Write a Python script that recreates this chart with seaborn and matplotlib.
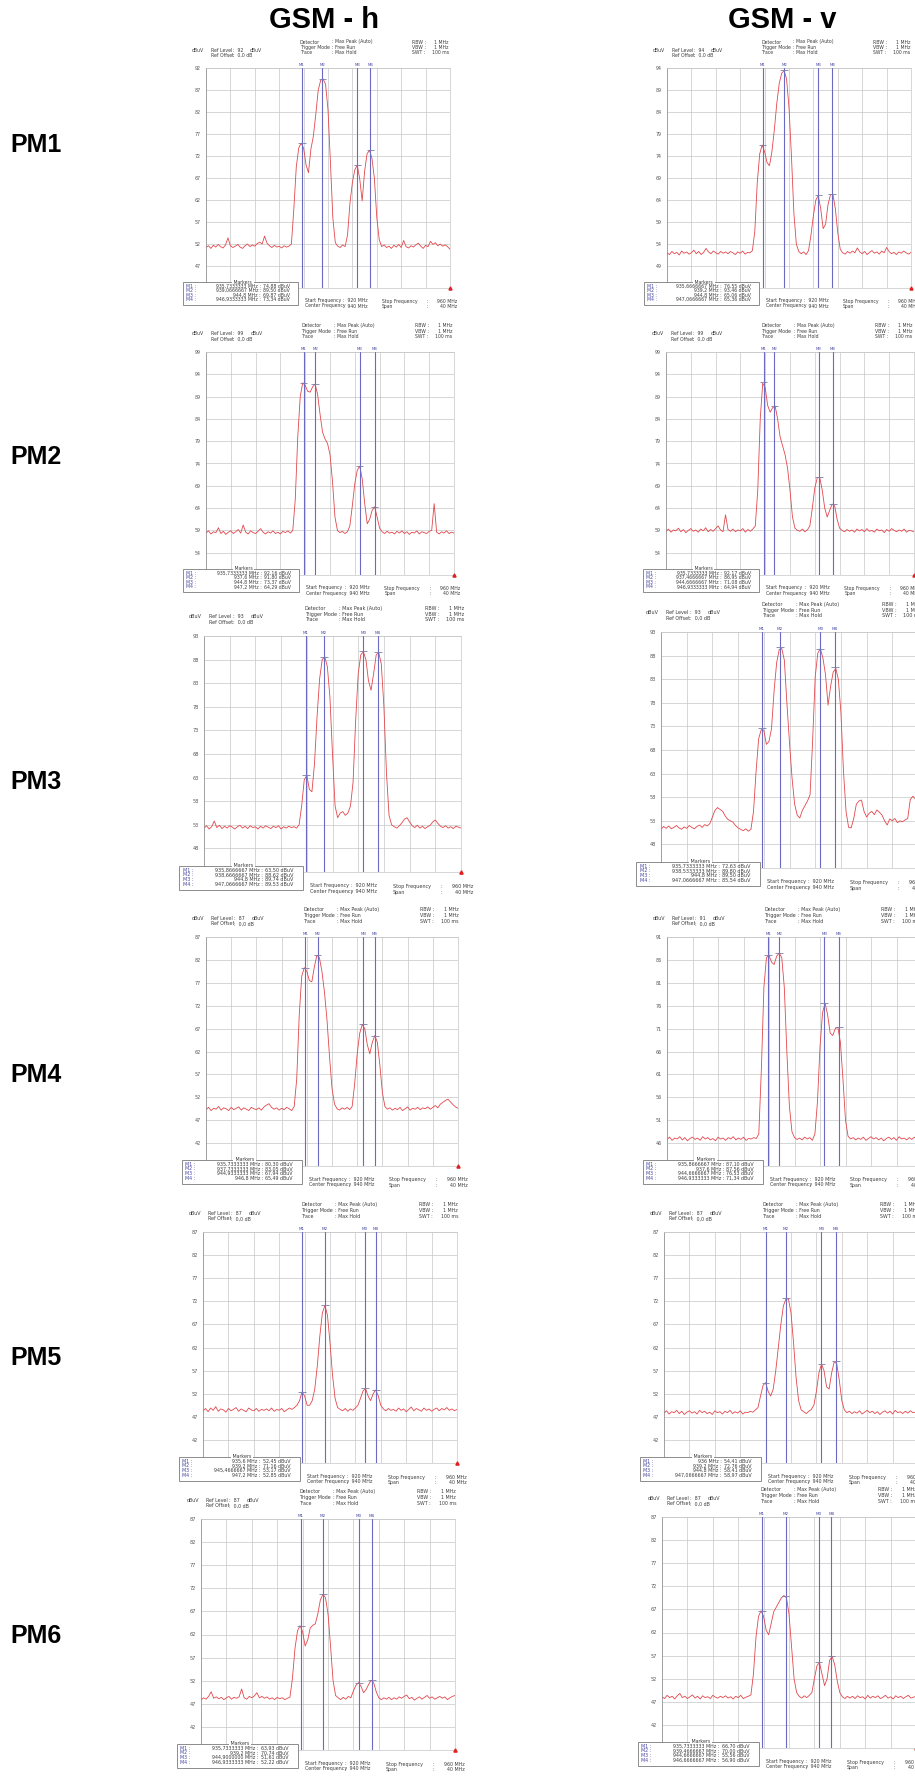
import matplotlib.pyplot as plt
from matplotlib.patches import Rectangle
import seaborn as sns
import numpy as np

# ============  6 x 2 spectrum analyser screenshots (GSM - h / GSM - v)  ============

sns.set_theme(style="white")
plt.rcParams['font.family'] = ['DejaVu Sans']

FW, FH = 915, 1778

col_titles = ["GSM - h", "GSM - v"]
row_labels = ["PM1", "PM2", "PM3", "PM4", "PM5", "PM6"]

freq = np.linspace(920, 960, 101)          # analyser frequency grid, 0.4 MHz step

ref_h = [92, 99, 93, 87, 87, 87]
ref_v = [94, 99, 93, 91, 87, 87]

# ---- traces, dBuV (rows: 920-929.6 / 930-939.6 / 940-949.6 / 950-959.6 / 960)
trace_pm1_h = [51.2, 51.6, 51.0, 51.7, 51.3, 51.9, 51.4, 51.1, 51.8, 53.4, 51.6, 51.2, 51.5, 51.9, 51.3, 51.0, 51.6, 52.0, 51.4, 51.8, 51.5, 52.1, 52.4, 52.0, 53.8,
               52.2, 51.6, 51.2, 51.7, 51.3, 51.5, 51.1, 51.6, 51.3, 51.5, 52.0, 60.0, 69.5, 73.8, 74.9, 73.8, 70.0, 68.2, 73.6, 76.5, 81.5, 87.0, 89.2, 89.5, 88.3,
               82.5, 70.5, 57.8, 52.3, 51.5, 51.2, 51.8, 51.4, 54.0, 61.3, 66.0, 68.9, 69.9, 66.8, 61.8, 68.5, 72.5, 73.3, 71.5, 67.0, 58.0, 53.0, 51.4, 51.8, 51.2,
               51.5, 51.0, 51.7, 51.3, 51.9, 51.2, 52.8, 51.4, 51.1, 51.6, 51.3, 51.8, 52.2, 51.5, 51.0, 51.7, 51.4, 52.6, 51.9, 52.3, 51.6, 52.0, 51.5, 51.8, 51.4,
               50.8]
trace_pm1_v = [52.0, 51.6, 52.3, 51.8, 52.1, 51.5, 52.4, 51.9, 52.2, 51.7, 52.0, 52.6, 51.8, 52.3, 51.6, 52.1, 53.0, 52.2, 51.8, 52.4, 52.0, 51.7, 52.3, 51.9, 52.2,
               51.8, 52.3, 52.0, 51.6, 52.2, 51.9, 52.4, 51.7, 52.1, 52.0, 52.5, 57.0, 68.0, 74.5, 76.5, 75.0, 72.5, 71.8, 75.0, 80.0, 86.0, 90.5, 92.8, 93.4, 91.5,
               85.0, 74.0, 61.0, 54.0, 52.3, 51.8, 52.2, 51.6, 52.5, 56.0, 60.5, 64.0, 65.0, 62.0, 57.5, 58.5, 63.0, 65.2, 65.3, 62.0, 56.5, 52.8, 52.0, 51.7, 52.3,
               51.9, 52.4, 52.0, 53.1, 52.2, 51.8, 52.3, 51.6, 52.1, 52.5, 51.9, 52.2, 51.7, 52.4, 52.0, 53.2, 52.3, 51.8, 52.1, 51.6, 52.2, 51.9, 52.4, 52.0, 51.7,
               52.1]
trace_pm2_h = [58.4, 58.9, 58.2, 58.7, 58.5, 59.6, 58.3, 58.8, 58.1, 58.6, 58.9, 58.3, 58.7, 59.2, 58.4, 60.2, 58.6, 58.2, 58.9, 58.5, 58.3, 58.8, 59.4, 58.6, 58.2,
               58.7, 58.4, 58.9, 58.3, 58.6, 58.2, 58.8, 58.5, 58.9, 58.4, 59.0, 66.0, 80.0, 89.0, 92.1, 91.5, 90.2, 90.0, 91.2, 91.8, 89.5, 85.0, 81.0, 79.5, 78.5,
               76.0, 70.0, 62.0, 59.0, 58.5, 58.8, 58.3, 58.7, 60.0, 64.5, 69.5, 72.5, 73.4, 70.5, 65.0, 60.5, 61.5, 63.5, 64.3, 62.0, 59.5, 58.7, 58.3, 58.8, 58.4,
               58.6, 58.2, 58.8, 58.4, 58.9, 58.3, 58.7, 58.1, 58.6, 58.4, 58.9, 58.2, 58.7, 58.5, 58.3, 58.8, 59.0, 65.0, 58.6, 58.2, 58.7, 58.4, 58.9, 58.3, 58.6,
               58.4]
trace_pm2_v = [58.8, 59.3, 58.6, 59.1, 58.9, 59.5, 58.7, 59.2, 58.5, 59.0, 59.4, 58.8, 59.1, 58.6, 59.3, 58.9, 59.6, 58.7, 59.2, 58.8, 59.4, 60.0, 59.1, 58.7, 62.5,
               59.2, 58.8, 59.3, 58.7, 59.1, 58.9, 59.4, 58.6, 59.2, 58.8, 59.3, 60.0, 68.0, 84.0, 92.0, 91.0, 87.0, 85.5, 86.5, 86.9, 84.0, 80.0, 78.0, 76.0, 73.0,
               68.0, 62.0, 59.5, 59.0, 58.8, 59.3, 58.7, 59.1, 60.0, 64.0, 68.5, 70.8, 70.9, 68.0, 64.0, 62.0, 63.5, 64.9, 64.5, 61.5, 59.5, 59.0, 58.7, 59.2, 58.8,
               59.1, 58.6, 59.3, 58.9, 59.2, 58.7, 59.4, 58.8, 59.0, 58.6, 59.3, 58.9, 59.1, 58.5, 59.2, 58.8, 59.4, 59.0, 58.7, 59.1, 58.8, 59.3, 58.6, 59.0, 58.9,
               58.7]
trace_pm3_h = [52.3, 52.8, 52.1, 52.6, 53.8, 52.4, 52.9, 52.2, 52.7, 52.3, 52.8, 52.5, 52.1, 52.6, 52.9, 52.3, 52.7, 52.2, 52.8, 52.4, 52.6, 52.1, 52.7, 52.3, 52.8,
               52.5, 52.2, 52.7, 52.4, 52.8, 52.1, 52.6, 52.3, 52.7, 52.4, 52.6, 52.3, 53.0, 57.0, 62.5, 63.5, 60.5, 60.0, 66.0, 76.0, 84.0, 88.0, 88.6, 86.5, 80.0,
               68.0, 57.0, 54.5, 55.5, 55.8, 55.0, 55.5, 57.0, 62.0, 75.0, 85.0, 89.0, 89.7, 88.0, 83.5, 81.5, 85.0, 89.0, 89.5, 87.0, 78.0, 64.0, 55.0, 53.0, 52.6,
               52.3, 52.8, 53.4, 54.2, 54.5, 53.6, 52.8, 52.4, 52.9, 52.3, 52.7, 52.2, 52.6, 52.9, 53.6, 54.0, 53.3, 52.7, 52.4, 52.8, 52.3, 52.6, 52.2, 52.7, 52.5,
               52.3]
trace_pm3_v = [51.2, 51.8, 51.4, 51.9, 51.3, 51.6, 52.0, 51.5, 51.2, 51.7, 51.4, 52.0, 51.6, 51.3, 51.8, 52.1, 51.6, 52.2, 51.9, 52.4, 53.8, 55.2, 55.8, 55.4, 55.0,
               54.0, 53.3, 53.0, 52.7, 52.0, 51.5, 51.2, 50.9, 51.3, 50.8, 51.2, 55.0, 63.5, 70.4, 72.3, 72.2, 69.2, 69.8, 72.5, 80.5, 86.5, 89.3, 89.5, 87.0, 77.8,
               69.5, 62.0, 56.5, 54.2, 53.6, 55.2, 56.2, 57.2, 58.5, 70.0, 83.5, 88.5, 89.5, 87.5, 84.0, 77.5, 81.5, 84.5, 85.3, 83.0, 76.0, 63.5, 55.0, 51.6, 51.5,
               53.5, 56.5, 57.2, 57.4, 55.0, 53.8, 54.6, 55.0, 54.3, 55.3, 54.8, 54.2, 53.0, 52.1, 53.4, 53.0, 53.5, 52.6, 53.0, 52.8, 53.2, 53.5, 57.5, 58.2, 57.6,
               57.2]
trace_pm4_h = [49.3, 49.8, 49.1, 49.6, 49.4, 50.0, 49.2, 49.7, 49.5, 49.1, 49.8, 49.3, 49.6, 49.9, 49.2, 49.7, 49.4, 49.1, 49.8, 49.5, 49.3, 49.7, 49.2, 49.9, 50.3,
               50.6, 49.8, 49.4, 49.7, 49.2, 49.6, 49.3, 49.8, 49.5, 49.1, 50.0, 56.0, 70.0, 78.5, 80.3, 79.5, 77.5, 77.2, 80.5, 83.0, 82.5, 79.5, 75.0, 69.0, 61.0,
               54.0, 50.5, 49.5, 49.2, 49.7, 49.4, 49.8, 49.3, 50.0, 55.0, 61.5, 66.0, 67.9, 67.0, 63.5, 61.5, 64.0, 65.5, 64.0, 59.0, 53.0, 50.0, 49.4, 49.7, 49.2,
               49.6, 49.3, 49.8, 49.1, 49.5, 49.9, 49.2, 49.6, 49.4, 49.8, 49.3, 49.7, 49.5, 49.9, 49.4, 49.8, 50.2, 49.7, 50.5, 50.9, 51.3, 51.6, 51.0, 50.4, 49.9,
               49.6]
trace_pm4_v = [46.8, 47.3, 46.6, 47.1, 46.9, 47.4, 46.7, 47.2, 46.5, 47.0, 47.3, 46.8, 47.1, 46.6, 47.4, 46.9, 47.2, 46.7, 47.0, 46.5, 47.3, 46.9, 47.1, 46.6, 47.2,
               46.9, 47.4, 46.7, 47.1, 46.8, 47.3, 46.6, 47.0, 46.9, 47.2, 47.0, 48.0, 62.0, 80.0, 86.5, 87.0, 85.5, 85.0, 86.8, 87.5, 86.5, 80.0, 66.0, 54.0, 48.5,
               47.2, 46.8, 47.1, 46.7, 47.3, 46.9, 47.2, 46.6, 48.0, 55.0, 67.0, 74.5, 76.5, 74.0, 70.0, 69.5, 71.0, 71.3, 68.0, 60.0, 51.0, 47.5, 46.9, 47.2, 46.7,
               47.1, 46.8, 47.3, 46.6, 47.0, 47.4, 46.9, 47.2, 46.7, 47.1, 46.5, 47.0, 47.3, 46.8, 47.2, 46.6, 47.4, 46.9, 47.1, 46.7, 47.2, 46.8, 47.3, 46.9, 47.0,
               46.8]
trace_pm5_h = [48.3, 48.8, 48.1, 48.9, 48.4, 49.2, 48.2, 48.7, 48.5, 48.0, 48.8, 48.3, 48.6, 49.0, 48.2, 48.7, 48.4, 48.1, 48.9, 48.5, 48.3, 48.8, 48.2, 48.6, 48.4,
               48.7, 48.3, 48.9, 48.2, 48.6, 48.4, 48.8, 48.1, 48.5, 48.9, 48.6, 49.0, 49.5, 50.5, 52.4, 51.5, 49.5, 49.5, 50.5, 53.0, 58.0, 64.5, 69.5, 71.1, 69.0,
               63.0, 56.0, 51.0, 49.0, 48.6, 48.3, 48.8, 48.2, 48.7, 48.4, 48.9, 49.5, 51.0, 52.6, 53.1, 51.5, 50.5, 52.0, 52.8, 51.5, 49.5, 48.7, 48.3, 48.8, 48.4,
               48.6, 48.2, 48.9, 48.4, 48.7, 48.1, 48.6, 49.1, 48.3, 48.8, 48.5, 48.2, 48.9, 48.4, 48.7, 48.2, 48.6, 48.9, 48.3, 48.8, 48.5, 49.0, 48.4, 48.7, 48.3,
               48.6]
trace_pm5_v = [47.8, 48.3, 47.6, 48.1, 47.9, 48.4, 47.7, 48.2, 47.5, 48.0, 48.3, 47.8, 48.1, 47.6, 48.4, 47.9, 48.2, 47.7, 48.0, 47.5, 48.3, 47.9, 48.1, 47.6, 48.2,
               47.9, 48.4, 47.7, 48.1, 47.8, 48.3, 47.6, 48.0, 47.9, 48.2, 48.0, 48.5, 49.0, 51.5, 53.8, 54.4, 52.5, 51.5, 53.0, 57.0, 62.0, 67.0, 71.0, 72.5, 72.5,
               69.5, 63.0, 55.5, 50.5, 48.5, 48.1, 47.7, 48.2, 48.6, 49.5, 52.5, 56.5, 58.4, 57.0, 53.5, 53.0, 56.5, 58.9, 58.5, 55.0, 50.5, 48.5, 47.9, 48.2, 47.7,
               48.1, 47.8, 48.3, 47.6, 48.0, 48.4, 47.9, 48.2, 47.7, 48.1, 47.5, 48.0, 48.3, 47.8, 48.2, 47.6, 48.4, 47.9, 48.1, 47.7, 48.2, 47.8, 48.3, 47.9, 48.0,
               47.8]
trace_pm6_h = [47.8, 48.3, 48.0, 48.6, 49.6, 48.2, 48.5, 48.1, 48.4, 47.9, 48.3, 48.6, 48.0, 48.4, 48.2, 48.5, 50.2, 48.3, 48.0, 48.6, 48.3, 48.7, 49.4, 48.3, 48.6,
               48.2, 48.5, 48.0, 48.3, 47.9, 48.4, 48.1, 48.3, 47.9, 48.2, 48.4, 52.5, 59.0, 62.8, 63.9, 62.6, 59.5, 60.8, 63.4, 64.0, 64.3, 66.5, 69.5, 70.7, 70.0,
               66.5, 59.5, 52.0, 48.8, 48.3, 47.9, 48.4, 48.0, 48.6, 48.3, 49.8, 51.0, 51.6, 50.8, 49.4, 50.1, 51.2, 52.1, 51.5, 49.6, 48.3, 47.9, 48.3, 48.0, 48.4,
               47.9, 48.3, 48.0, 48.5, 48.2, 48.6, 48.9, 48.1, 48.4, 47.8, 48.2, 48.5, 48.0, 48.4, 48.8, 48.2, 48.5, 48.0, 48.3, 48.6, 48.2, 48.5, 47.9, 48.3, 48.6,
               48.8]
trace_pm6_v = [48.1, 47.7, 48.4, 47.9, 48.2, 47.6, 48.3, 48.8, 47.9, 48.2, 47.7, 48.1, 48.5, 47.8, 48.2, 47.6, 48.3, 47.9, 48.1, 47.7, 48.4, 48.0, 47.8, 48.2, 47.9,
               48.3, 47.8, 48.1, 47.6, 48.2, 47.9, 48.4, 47.7, 48.0, 48.2, 48.5, 53.0, 61.0, 65.5, 66.7, 65.5, 62.5, 61.5, 64.0, 66.5, 67.5, 68.5, 69.5, 70.0, 69.5,
               66.0, 59.0, 52.0, 49.0, 48.2, 47.8, 48.3, 47.9, 48.4, 49.0, 52.0, 54.8, 55.5, 53.0, 50.5, 52.0, 56.0, 56.8, 55.0, 51.5, 49.0, 48.1, 47.7, 48.2, 47.8,
               48.2, 47.7, 48.3, 47.9, 48.1, 47.6, 48.4, 47.8, 48.2, 47.9, 48.3, 47.7, 48.0, 48.4, 47.8, 48.1, 47.6, 48.3, 47.9, 48.2, 47.7, 48.1, 48.4, 47.8, 48.0,
               48.2]

# ---- markers M1..M4: frequency text (MHz) and level (dBuV)
mkf_pm1_h = ["935,7333333", "939,0666667", "944,8", "946,9333333"]
mkv_pm1_h = [74.88, 89.50, 69.87, 73.34]
mkf_pm1_v = ["935,6666667", "939,2", "944,8", "947,0666667"]
mkv_pm1_v = [76.55, 93.46, 65.06, 65.36]
mkf_pm2_h = ["935,7333333", "937,6", "944,8", "947,2"]
mkv_pm2_h = [92.16, 91.80, 73.37, 64.29]
mkf_pm2_v = ["935,7333333", "937,4666667", "944,6666667", "946,9333333"]
mkv_pm2_v = [92.17, 86.95, 71.08, 64.94]
mkf_pm3_h = ["935,8666667", "938,6666667", "944,8", "947,0666667"]
mkv_pm3_h = [63.50, 88.62, 89.74, 89.53]
mkf_pm3_v = ["935,7333333", "938,5333333", "944,8", "947,0666667"]
mkv_pm3_v = [72.63, 89.80, 89.50, 85.54]
mkf_pm4_h = ["935,7333333", "937,7333333", "944,9333333", "946,8"]
mkv_pm4_h = [80.30, 83.05, 67.94, 65.49]
mkf_pm4_v = ["935,8666667", "937,6", "944,6666667", "946,9333333"]
mkv_pm4_v = [87.10, 87.56, 76.53, 71.34]
mkf_pm5_h = ["935,6", "939,2", "945,4666667", "947,2"]
mkv_pm5_h = [52.45, 71.16, 53.17, 52.85]
mkf_pm5_v = ["936", "939,2", "944,8", "947,0666667"]
mkv_pm5_v = [54.41, 72.76, 58.41, 58.97]
mkf_pm6_h = ["935,7333333", "939,2", "944,9000000", "946,9333333"]
mkv_pm6_h = [63.93, 70.74, 51.61, 52.22]
mkf_pm6_v = ["935,7333333", "939,4666667", "944,6666667", "946,6666667"]
mkv_pm6_v = [66.70, 70.00, 55.56, 56.90]

traces_h = [trace_pm1_h, trace_pm2_h, trace_pm3_h, trace_pm4_h, trace_pm5_h, trace_pm6_h]
traces_v = [trace_pm1_v, trace_pm2_v, trace_pm3_v, trace_pm4_v, trace_pm5_v, trace_pm6_v]
mkf_h = [mkf_pm1_h, mkf_pm2_h, mkf_pm3_h, mkf_pm4_h, mkf_pm5_h, mkf_pm6_h]
mkf_v = [mkf_pm1_v, mkf_pm2_v, mkf_pm3_v, mkf_pm4_v, mkf_pm5_v, mkf_pm6_v]
mkv_h = [mkv_pm1_h, mkv_pm2_h, mkv_pm3_h, mkv_pm4_h, mkv_pm5_h, mkv_pm6_h]
mkv_v = [mkv_pm1_v, mkv_pm2_v, mkv_pm3_v, mkv_pm4_v, mkv_pm5_v, mkv_pm6_v]

# plot boxes in pixels: left, top, width, height (the screenshots are pasted at slightly different sizes)
geo_h = [(206, 68, 244, 220), (206, 352, 248, 223), (204, 636, 257, 236),
         (206, 937, 252, 229), (203, 1232, 254, 231), (201, 1519, 254, 231)]
geo_v = [(667, 68, 244, 220), (666, 352, 248, 223), (661, 632, 257, 236),
         (667, 937, 255, 229), (664, 1232, 254, 231), (662, 1517, 254, 231)]
label_y = [145, 457, 782, 1075, 1358, 1636]

TRACE = "#e2474c"
MLINE = "#6a6ac2"
MTEXT = "#4646a2"
TXT = "#3c3c3c"
GRID = "#c6c6c6"

fig = plt.figure(figsize=(FW / 100, FH / 100), dpi=100)
fig.patch.set_facecolor("white")


def fx(x):
    return x / FW


def fy(y):
    return 1 - y / FH


def put(x, y, s, fs, **kw):
    kw.setdefault("color", TXT)
    kw.setdefault("va", "center")
    fig.text(fx(x), fy(y), s, fontsize=fs, **kw)


def panel(L, T, W, H, ref, trace, mkf, mkv):
    k = H / 220
    fs = 3.3 * k
    B = T + H
    ax = fig.add_axes([fx(L), fy(B), W / FW, H / FH])
    ax.set_facecolor("white")
    sns.lineplot(x=freq, y=trace, ax=ax, color=TRACE, linewidth=0.6, zorder=2)
    ax.set_xlim(920, 960)
    ax.set_ylim(ref - 50, ref)
    ax.set_xticks(np.arange(920, 961, 4))
    ax.set_xticklabels([])
    yt = np.arange(ref - 50, ref + 1, 5)
    ax.set_yticks(yt)
    ax.set_yticklabels(["" if v == ref - 50 else str(v) for v in yt])
    ax.tick_params(length=0, labelsize=3.4 * k, labelcolor="#555555", pad=3.6 * k)
    ax.grid(True, color=GRID, linewidth=0.5)
    ax.set_xlabel("")
    ax.set_ylabel("")
    for s in ax.spines.values():
        s.set_color(GRID)
        s.set_linewidth(0.5)
    ax.spines["left"].set_color("#8c8c8c")

    mfreq = [float(s.replace(",", ".")) for s in mkf]
    for i, (f, v) in enumerate(zip(mfreq, mkv)):
        ax.axvline(f, color=MLINE, lw=0.8, zorder=3)
        ax.hlines(v, f - 0.6, f + 0.6, color="#7c7caa", lw=0.6, zorder=4)
        ax.annotate(f"M{i + 1}", xy=(f, ref), xytext=(0, 0.8), textcoords="offset points",
                    ha="center", va="bottom", fontsize=fs * 0.85, color=MTEXT, annotation_clip=False)
    ax.plot([960], [ref - 50], marker="^", color="#e02020", ms=2.2 * k, clip_on=False, zorder=5)

    # header block
    put(L - 14 * k, T - 18 * k, "dBuV", fs)
    put(L + 5 * k, T - 18 * k, "Ref Level", fs)
    put(L + 27 * k, T - 18 * k, ":  " + str(ref), fs)
    put(L + 44 * k, T - 18 * k, "dBuV", fs)
    put(L + 5 * k, T - 12.6 * k, "Ref Offset", fs)
    put(L + 27 * k, T - 12.6 * k, ":  0,0 dB", fs)
    for j, (a, b) in enumerate([("Detector", "Max Peak (Auto)"), ("Trigger Mode", "Free Run"), ("Trace", "Max Hold")]):
        yy = T - (26 - 5.5 * j) * k
        put(L + 94 * k, yy, a, fs)
        put(L + 126 * k, yy, ": " + b, fs)
    for j, (a, b) in enumerate([("RBW :", "1 MHz"), ("VBW :", "1 MHz"), ("SWT :", "100 ms")]):
        yy = T - (26 - 5.5 * j) * k
        put(L + 206 * k, yy, a, fs)
        put(L + 243 * k, yy, b, fs, ha="right")

    # markers table
    bx0, bx1 = L - 23 * k, L + 92 * k
    by0, by1 = B - 6 * k, B + 17 * k
    fig.add_artist(Rectangle((fx(bx0), fy(by1)), (bx1 - bx0) / FW, (by1 - by0) / FH,
                             transform=fig.transFigure, facecolor="white", edgecolor="#7a7a7a",
                             lw=0.6, zorder=6))
    fig.text(fx(L + 37 * k), fy(by0), " Markers ", fontsize=fs, color=TXT, ha="center", va="center",
             zorder=7, bbox=dict(facecolor="white", edgecolor="none", pad=0.2))
    for i, (s, v) in enumerate(zip(mkf, mkv)):
        yy = B - 1.8 * k + 4.5 * k * i
        fig.text(fx(L - 20 * k), fy(yy), f"M{i + 1} :", fontsize=fs, color=MTEXT, va="center", zorder=7)
        fig.text(fx(L + 55 * k), fy(yy), s + " MHz :", fontsize=fs, color=TXT, va="center", ha="right", zorder=7)
        fig.text(fx(L + 57 * k), fy(yy), f"{v:.2f}".replace(".", ",") + " dBuV", fontsize=fs, color=TXT,
                 va="center", zorder=7)

    # frequency footer
    put(L + 99 * k, B + 12.7 * k, "Start Frequency", fs)
    put(L + 137 * k, B + 12.7 * k, ":  920 MHz", fs)
    put(L + 99 * k, B + 18 * k, "Center Frequency", fs)
    put(L + 137 * k, B + 18 * k, ":  940 MHz", fs)
    put(L + 176 * k, B + 13.4 * k, "Stop Frequency", fs)
    put(L + 220 * k, B + 13.4 * k, ":", fs)
    put(L + 251 * k, B + 13.4 * k, "960 MHz", fs, ha="right")
    put(L + 176 * k, B + 18.7 * k, "Span", fs)
    put(L + 220 * k, B + 18.7 * k, ":", fs)
    put(L + 251 * k, B + 18.7 * k, "40 MHz", fs, ha="right")


for r in range(6):
    panel(*geo_h[r], ref_h[r], traces_h[r], mkf_h[r], mkv_h[r])
    panel(*geo_v[r], ref_v[r], traces_v[r], mkf_v[r], mkv_v[r])
    fig.text(fx(36), fy(label_y[r]), row_labels[r], fontsize=18, fontweight="bold",
             family=["Liberation Sans", "DejaVu Sans"], ha="center", va="center", color="black")

for x, t in zip([324, 782], col_titles):
    fig.text(fx(x), fy(20), t, fontsize=21, fontweight="bold",
             family=["Liberation Sans", "DejaVu Sans"], ha="center", va="center", color="black")

fig.savefig("out.png", dpi=100)
